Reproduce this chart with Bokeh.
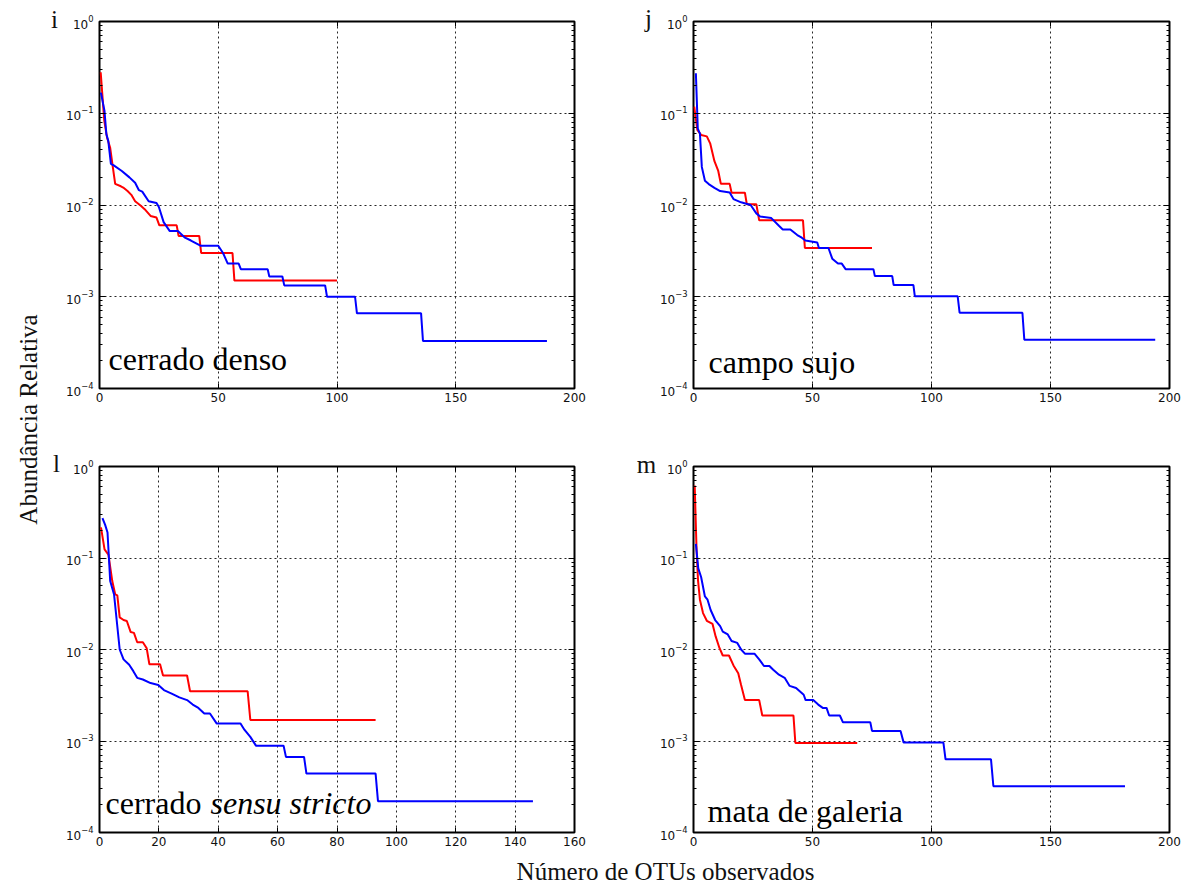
import math
from bokeh.plotting import figure
from bokeh.models import (Range1d, Label, LinearAxis, LogAxis, FixedTicker,
                          CustomJSTickFormatter)
from bokeh.layouts import row, column
from bokeh.embed import file_html
from bokeh.resources import INLINE

# ---------------- data (rank, relative abundance) ----------------
# panel i : cerrado denso
red_i_x = [0.5, 2, 3.2, 4.5, 5.6, 6.6, 9, 10, 11.8, 13.4, 15, 17.4, 19, 21.5, 24, 25.2,
           32.5, 33.3, 42, 42.8, 56, 56.8, 100]
red_i_y = [0.28, 0.083, 0.054, 0.042, 0.026, 0.017, 0.016, 0.0155, 0.0142, 0.0129, 0.011,
           0.0098, 0.009, 0.0076, 0.0073, 0.006, 0.006, 0.0046, 0.0046, 0.003, 0.003,
           0.0015, 0.0015]
blue_i_x = [0.6, 2.1, 2.9, 3.7, 4.8, 6, 9.4, 12.6, 15, 16.6, 18, 20.7, 24, 25, 27, 29.6,
            33, 36, 38.5, 42.5, 50, 52, 54, 58.6, 59.5, 70.8, 71.5, 77, 77.8, 95, 95.8,
            107.6, 108.4, 135.4, 136.2, 188.4]
blue_i_y = [0.168, 0.106, 0.059, 0.05, 0.028, 0.027, 0.0235, 0.02, 0.0175, 0.0145, 0.014,
            0.011, 0.0105, 0.0095, 0.0065, 0.0052, 0.0052, 0.0044, 0.0041, 0.0036, 0.0036,
            0.003, 0.0023, 0.0023, 0.002, 0.002, 0.00166, 0.00166, 0.00133, 0.00133,
            0.001, 0.001, 0.00066, 0.00066, 0.00033, 0.00033]

# panel j : campo sujo
red_j_x = [0.3, 1.6, 3.2, 5.6, 7, 8.8, 10.4, 11.5, 15.2, 16, 21.6, 22.4, 26.4, 27.6,
           46, 46.8, 75]
red_j_y = [0.118, 0.066, 0.058, 0.056, 0.047, 0.03, 0.0235, 0.017, 0.017, 0.0136, 0.0136,
           0.0102, 0.0102, 0.0068, 0.0068, 0.0034, 0.0034]
blue_j_x = [1, 1.8, 2.7, 3.5, 4.8, 6.4, 8.8, 11.2, 15.2, 16.8, 20, 24, 26.4, 28, 32.7, 36,
            37.5, 40.7, 43.6, 45.5, 47, 52, 52.7, 56.7, 58.3, 60.7, 62.3, 63.9, 75.6, 76.2,
            83.5, 84.1, 92.4, 93, 111, 111.8, 138.2, 139, 194]
blue_j_y = [0.273, 0.068, 0.06, 0.026, 0.0184, 0.0169, 0.0154, 0.0142, 0.0137, 0.0116,
            0.0107, 0.0100, 0.0081, 0.0075, 0.0072, 0.0059, 0.0054, 0.0054, 0.0047, 0.0044,
            0.0041, 0.0039, 0.0034, 0.0034, 0.0026, 0.0023, 0.0023, 0.0020, 0.0020,
            0.00168, 0.00168, 0.00134, 0.00134, 0.00101, 0.00101, 0.00067, 0.00067,
            0.00034, 0.00034]

# panel l : cerrado sensu stricto
red_l_x = [0.5, 1.7, 3, 4.3, 5.3, 6, 6.8, 8.1, 9.2, 10.5, 11.6, 12.7, 14.6, 15.9, 16.8,
           20.4, 21.4, 29.5, 30.5, 49.9, 50.8, 93]
red_l_y = [0.216, 0.124, 0.109, 0.056, 0.040, 0.039, 0.0224, 0.021, 0.0205, 0.0155,
           0.0152, 0.012, 0.012, 0.0103, 0.0069, 0.0069, 0.0052, 0.0052, 0.0035, 0.0035,
           0.0017, 0.0017]
blue_l_x = [1, 1.9, 2.7, 3.6, 4.9, 6.8, 8.1, 10, 11.4, 12.7, 14.6, 17.2, 19.8, 21.7, 24.3,
            26.9, 29.5, 31.4, 33.3, 35.3, 37.2, 39.5, 47.5, 48.8, 50.8, 52.7, 62, 62.8,
            68.9, 69.7, 93, 93.8, 146]
blue_l_y = [0.273, 0.23, 0.19, 0.056, 0.040, 0.0100, 0.0078, 0.0068, 0.0058, 0.0049,
            0.0047, 0.0043, 0.0041, 0.0036, 0.0033, 0.0030, 0.0028, 0.0025, 0.0023, 0.0020,
            0.0020, 0.00155, 0.00155, 0.00133, 0.00111, 0.00089, 0.00089, 0.00067,
            0.00067, 0.00044, 0.00044, 0.00022, 0.00022]

# panel m : mata de galeria
red_m_x = [0.5, 1.3, 1.9, 2.7, 4, 5.6, 8, 9.3, 10.9, 12.3, 14.9, 16.8, 18.8, 20, 21.6,
           27.6, 28.9, 42, 42.8, 68.8]
red_m_y = [0.62, 0.121, 0.057, 0.035, 0.025, 0.0206, 0.019, 0.0139, 0.0104, 0.0086,
           0.0086, 0.0067, 0.0055, 0.0041, 0.0028, 0.0028, 0.0019, 0.0019, 0.00095, 0.00095]
blue_m_x = [1, 2, 3.2, 4.8, 5.9, 7.2, 9.1, 11.2, 12.3, 14.4, 16, 18.4, 20, 21.6, 25.6,
            27.6, 29.6, 31.9, 33.5, 35.9, 38.3, 40.4, 43.1, 46.3, 47.1, 50.3, 52.4, 54.3,
            55.9, 57, 61.5, 62.8, 74.3, 75, 87, 88.3, 105, 105.9, 125, 126, 181.3]
blue_m_y = [0.143, 0.077, 0.062, 0.038, 0.035, 0.027, 0.021, 0.018, 0.0157, 0.0146,
            0.0124, 0.0118, 0.010, 0.0090, 0.0090, 0.0078, 0.0066, 0.0066, 0.0060, 0.0053,
            0.0049, 0.0040, 0.0038, 0.0032, 0.0028, 0.0028, 0.0025, 0.0023, 0.0023,
            0.0019, 0.0019, 0.0016, 0.0016, 0.00129, 0.00129, 0.00096, 0.00096, 0.00063,
            0.00063, 0.00032, 0.00032]

x_ticks_200 = [0, 50, 100, 150, 200]
x_ticks_160 = [0, 20, 40, 60, 80, 100, 120, 140, 160]
y_ticks = [1e-4, 1e-3, 1e-2, 1e-1, 1]
panel_letters = ["i", "j", "l", "m"]
panel_names = ["cerrado denso", "campo sujo", "cerrado ", "mata de galeria"]
italic_part = "sensu stricto"
x_title = "Número de OTUs observados"
y_title = "Abundância Relativa"

RED = "#ff0000"
BLUE = "#0000ff"
SERIF = "Liberation Serif"
SANS = "DejaVu Sans"

y_minor = [k * 10.0 ** e for e in range(-4, 0) for k in range(2, 10)]
empty_fmt = "return ''"


def style_axis(ax, major_in, minor_in, show_labels, standoff):
    ax.axis_line_color = None
    ax.major_tick_in = major_in
    ax.major_tick_out = 0
    ax.minor_tick_in = minor_in
    ax.minor_tick_out = 0
    ax.major_tick_line_color = "black"
    ax.minor_tick_line_color = "black"
    ax.major_tick_line_width = 1
    ax.major_label_standoff = standoff
    ax.major_label_text_font = SANS
    ax.major_label_text_font_size = "12px"
    ax.major_label_text_color = "#111111"
    if not show_labels:
        ax.formatter = CustomJSTickFormatter(code=empty_fmt)


def panel(W, H, bl, br, bt, bb, xmax, xticks, rx, ry, bx, by):
    p = figure(width=W, height=H, x_range=Range1d(0, xmax), y_range=Range1d(1e-4, 1),
               y_axis_type="log", output_backend="svg", toolbar_location=None,
               min_border_left=bl, min_border_right=br, min_border_top=bt,
               min_border_bottom=bb, background_fill_color="white",
               border_fill_color="white")
    p.outline_line_color = "black"
    p.outline_line_width = 2
    xt = FixedTicker(ticks=xticks, minor_ticks=[])
    yt = FixedTicker(ticks=y_ticks, minor_ticks=y_minor)
    p.xaxis.ticker = xt
    p.yaxis.ticker = yt
    style_axis(p.xaxis[0], 5, 0, True, 4)
    style_axis(p.yaxis[0], 6, 3, True, 6)
    top = LinearAxis(ticker=xt)
    style_axis(top, 5, 0, False, 0)
    p.add_layout(top, "above")
    right = LogAxis(ticker=yt)
    style_axis(right, 6, 3, False, 0)
    p.add_layout(right, "right")
    for g in (p.xgrid[0], p.ygrid[0]):
        g.grid_line_color = "black"
        g.grid_line_alpha = 0.85
        g.grid_line_dash = "2 3"
        g.grid_line_width = 1
    p.xgrid[0].ticker = xt
    p.ygrid[0].ticker = yt
    p.line(rx, ry, line_color=RED, line_width=2)
    p.line(bx, by, line_color=BLUE, line_width=2)
    return p


# page geometry of the plotting frames (pixels)
COL1 = (99, 574)
COL2 = (693, 1169)
ROW1 = (21, 388)
ROW2 = (466, 832)


def to_data(px, py, col, rowg, xmax):
    x = (px - col[0]) / (col[1] - col[0]) * xmax
    y = 10 ** (-4 * (py - rowg[0]) / (rowg[1] - rowg[0]))
    return x, y


def add_text(p, px, py, col, rowg, xmax, text, size, style="normal"):
    x, y = to_data(px, py, col, rowg, xmax)
    p.add_layout(Label(x=x, y=y, text=text, text_font=SERIF, text_font_size=size,
                       text_align="left", text_baseline="middle", text_color="black",
                       text_font_style=style))


# columns: left strip 0-62, col1 62-600, middle strip 600-656, col2 656-1184
fi = panel(538, 440, 37, 26, 21, 52, 200, x_ticks_200, red_i_x, red_i_y, blue_i_x, blue_i_y)
fj = panel(528, 440, 37, 15, 21, 52, 200, x_ticks_200, red_j_x, red_j_y, blue_j_x, blue_j_y)
fl = panel(538, 416, 37, 26, 26, 24, 160, x_ticks_160, red_l_x, red_l_y, blue_l_x, blue_l_y)
fm = panel(528, 416, 37, 15, 26, 24, 200, x_ticks_200, red_m_x, red_m_y, blue_m_x, blue_m_y)

add_text(fi, 108, 358, COL1, ROW1, 200, panel_names[0], "32px")
add_text(fj, 708, 361, COL2, ROW1, 200, panel_names[1], "32px")
add_text(fl, 105, 802, COL1, ROW2, 160, panel_names[2], "32px")
add_text(fl, 210, 802, COL1, ROW2, 160, italic_part, "32px", style="italic")
add_text(fm, 707, 810, COL2, ROW2, 200, panel_names[3], "32px")


def strip(width, height):
    s = figure(width=width, height=height, x_range=Range1d(0, width),
               y_range=Range1d(0, height), x_axis_location=None, y_axis_location=None,
               min_border=0, output_backend="svg", toolbar_location=None)
    s.outline_line_color = None
    s.grid.visible = False
    return s


def strip_text(s, x, y_from_top, text, size, angle=0.0):
    s.add_layout(Label(x=x, y=s.height - y_from_top, text=text, angle=angle,
                       text_font=SERIF, text_font_size=size, text_align="center",
                       text_baseline="middle", text_color="#111111"))


left = strip(62, 856)
strip_text(left, 28, 419, y_title, "25px", math.pi / 2)
strip_text(left, 54, 19, panel_letters[0], "25px")
strip_text(left, 56, 463, panel_letters[2], "25px")

mid = strip(56, 856)
strip_text(mid, 48, 18, panel_letters[1], "25px")
strip_text(mid, 46, 464, panel_letters[3], "25px")

xlab = strip(1184, 32)
strip_text(xlab, 665, 15, x_title, "25px")

page = column(row(left, column(fi, fl), mid, column(fj, fm)), xlab)

open("out.html", "w").write(file_html(page, INLINE))
